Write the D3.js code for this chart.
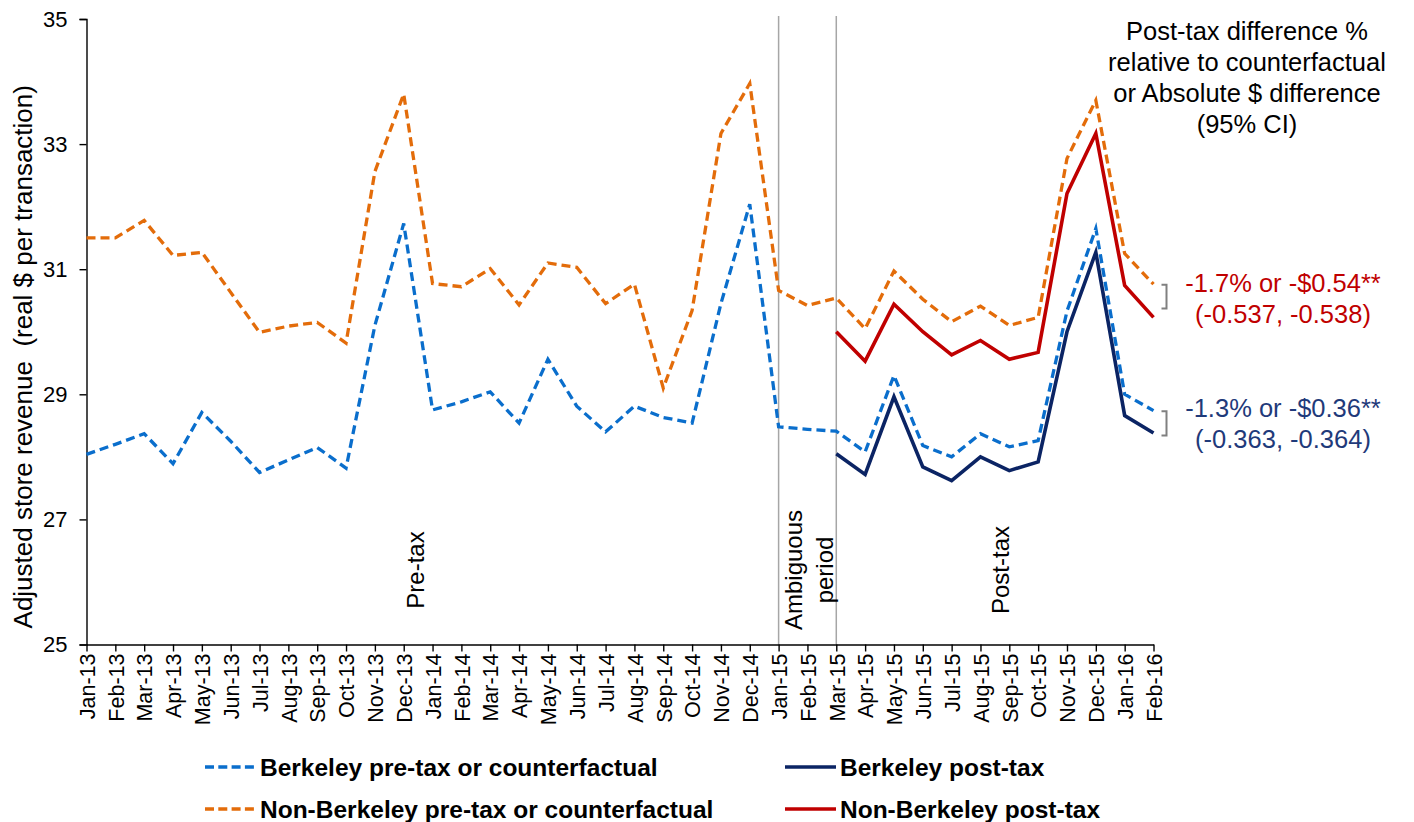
<!DOCTYPE html>
<html>
<head>
<meta charset="utf-8">
<script src="https://cdn.jsdelivr.net/npm/d3@7"></script>
<style>
  html, body { margin: 0; padding: 0; background: #fff; }
  svg { display: block; font-family: "Liberation Sans", Arial, sans-serif; }
</style>
</head>
<body>
<svg id="chart" width="1414" height="822"></svg>
<script>
// Monthly categories, Jan 2013 – Feb 2016
const months = [
  "Jan-13","Feb-13","Mar-13","Apr-13","May-13","Jun-13","Jul-13","Aug-13","Sep-13","Oct-13","Nov-13","Dec-13",
  "Jan-14","Feb-14","Mar-14","Apr-14","May-14","Jun-14","Jul-14","Aug-14","Sep-14","Oct-14","Nov-14","Dec-14",
  "Jan-15","Feb-15","Mar-15","Apr-15","May-15","Jun-15","Jul-15","Aug-15","Sep-15","Oct-15","Nov-15","Dec-15",
  "Jan-16","Feb-16"
];

// Berkeley pre-tax or counterfactual (real $ per transaction)
const berkeleyPre = [
  28.04, 28.20, 28.37, 27.89, 28.71, 28.25, 27.75, 27.95, 28.15, 27.82, 30.10, 31.73,
  28.75, 28.88, 29.04, 28.54, 29.56, 28.81, 28.40, 28.81, 28.63, 28.54, 30.45, 32.04,
  28.48, 28.44, 28.41, 28.08, 29.30, 28.18, 28.00, 28.37, 28.16, 28.26, 30.33, 31.65,
  29.00, 28.74
];

// Non-Berkeley pre-tax or counterfactual
const nonBerkeleyPre = [
  31.50, 31.50, 31.78, 31.22, 31.27, 30.63, 29.99, 30.09, 30.15, 29.82, 32.56, 33.80,
  30.77, 30.72, 31.01, 30.43, 31.10, 31.03, 30.45, 30.76, 29.10, 30.34, 33.17, 33.97,
  30.66, 30.42, 30.54, 30.05, 30.97, 30.52, 30.16, 30.41, 30.10, 30.23, 32.77, 33.70,
  31.25, 30.76
];

// Berkeley post-tax (from Mar-15)
const berkeleyPost = [
  null, null, null, null, null, null, null, null, null, null, null, null,
  null, null, null, null, null, null, null, null, null, null, null, null,
  null, null, 28.05, 27.72, 28.96, 27.84, 27.62, 28.00, 27.78, 27.92, 30.00, 31.27,
  28.66, 28.38
];

// Non-Berkeley post-tax (from Mar-15)
const nonBerkeleyPost = [
  null, null, null, null, null, null, null, null, null, null, null, null,
  null, null, null, null, null, null, null, null, null, null, null, null,
  null, null, 30.00, 29.53, 30.44, 30.00, 29.63, 29.86, 29.56, 29.67, 32.21, 33.17,
  30.74, 30.23
];

const yTicks = [25, 27, 29, 31, 33, 35];

const seriesNames = [
  "Berkeley pre-tax or counterfactual",
  "Non-Berkeley pre-tax or counterfactual",
  "Berkeley post-tax",
  "Non-Berkeley post-tax"
];

const periodBounds = ["Jan-15", "Mar-15"];

const headerLines = [
  "Post-tax difference %",
  "relative to counterfactual",
  "or Absolute $ difference",
  "(95% CI)"
];
const nonBerkeleyEffect = ["-1.7% or -$0.54**", "(-0.537, -0.538)"];
const berkeleyEffect = ["-1.3% or -$0.36**", "(-0.363, -0.364)"];
// bracket extents in $ units
const nonBerkeleyBracket = [30.75, 30.37];
const berkeleyBracket = [28.73, 28.34];

// ---- drawing ----
const svg = d3.select("#chart");

const x = d3.scalePoint().domain(months).range([86.5, 1153.5]);
const y = d3.scaleLinear().domain([25, 35]).range([644.5, 19]);

const colors = {
  berkPre: "#0A6ECC",
  nonBerkPre: "#E36C0A",
  berkPost: "#0B2464",
  nonBerkPost: "#C00000"
};

// period separators
svg.append("g").selectAll("line")
  .data(periodBounds)
  .join("line")
  .attr("x1", d => x(d)).attr("x2", d => x(d))
  .attr("y1", y(35) - 3).attr("y2", y(25))
  .attr("stroke", "#A6A6A6")
  .attr("stroke-width", 1.5);

// y axis
const yAxis = svg.append("g")
  .attr("transform", `translate(${x.range()[0]},0)`)
  .call(d3.axisLeft(y).tickValues(yTicks).tickSize(7).tickPadding(12).tickFormat(d3.format("d")));
yAxis.select(".domain").attr("stroke", "#000").attr("stroke-width", 1.4);
yAxis.selectAll(".tick line").attr("stroke", "#000").attr("stroke-width", 1.4);
yAxis.selectAll(".tick text")
  .attr("font-size", 22)
  .attr("fill", "#000")
  .attr("font-family", "'Liberation Sans', Arial, sans-serif");

// x axis
const xAxis = svg.append("g")
  .attr("transform", `translate(0,${y(25)})`)
  .call(d3.axisBottom(x).tickSize(7).tickSizeOuter(0));
xAxis.select(".domain").attr("stroke", "#000").attr("stroke-width", 1.4);
xAxis.selectAll(".tick line").attr("stroke", "#000").attr("stroke-width", 1.4);
xAxis.selectAll(".tick text")
  .attr("font-size", 21.5)
  .attr("fill", "#000")
  .attr("font-family", "'Liberation Sans', Arial, sans-serif")
  .attr("text-anchor", "end")
  .attr("transform", "rotate(-90)")
  .attr("x", -9)
  .attr("y", 0)
  .attr("dy", "0.36em");

// y axis title
svg.append("text")
  .attr("transform", `translate(32,${(y(25) + y(35)) / 2 + 25}) rotate(-90)`)
  .attr("text-anchor", "middle")
  .attr("font-size", 26)
  .attr("fill", "#000")
  .attr("xml:space", "preserve")
  .text("Adjusted store revenue  (real $ per transaction)");

// series lines
const line = d3.line()
  .defined(d => d.v != null)
  .x(d => x(d.m))
  .y(d => y(d.v));

const toPts = arr => months.map((m, i) => ({ m, v: arr[i] }));

const seriesDefs = [
  { data: nonBerkeleyPre, color: colors.nonBerkPre, dash: "9,5", width: 3.3 },
  { data: berkeleyPre, color: colors.berkPre, dash: "9,5", width: 3.3 },
  { data: nonBerkeleyPost, color: colors.nonBerkPost, dash: null, width: 3.6 },
  { data: berkeleyPost, color: colors.berkPost, dash: null, width: 3.6 }
];

svg.append("g").selectAll("path")
  .data(seriesDefs)
  .join("path")
  .attr("d", d => line(toPts(d.data)))
  .attr("fill", "none")
  .attr("stroke", d => d.color)
  .attr("stroke-width", d => d.width)
  .attr("stroke-dasharray", d => d.dash)
  .attr("stroke-linejoin", "miter");

// period labels
const periodText = svg.append("g")
  .attr("font-size", 24)
  .attr("fill", "#000")
  .attr("text-anchor", "middle");
const labelY = 570;
periodText.append("text")
  .attr("transform", `translate(${(x("Dec-13") + x("Jan-14")) / 2 + 6},${labelY}) rotate(-90)`)
  .text("Pre-tax");
periodText.append("text")
  .attr("transform", `translate(${x("Feb-15") - 5},${labelY}) rotate(-90)`)
  .text("Ambiguous");
periodText.append("text")
  .attr("transform", `translate(${x("Feb-15") + 26},${labelY}) rotate(-90)`)
  .text("period");
periodText.append("text")
  .attr("transform", `translate(${x("Sep-15")},${labelY}) rotate(-90)`)
  .text("Post-tax");

// header for effect estimates
svg.append("g")
  .attr("font-size", 25.5)
  .attr("fill", "#000")
  .attr("text-anchor", "middle")
  .selectAll("text")
  .data(headerLines)
  .join("text")
  .attr("x", 1247)
  .attr("y", (d, i) => 40 + i * 31)
  .text(d => d);

// brackets + effect labels
function effect(bracket, lines, color, baseY) {
  const xb = x(months[months.length - 1]) + 13;
  const y1 = y(bracket[0]), y2 = y(bracket[1]);
  svg.append("path")
    .attr("d", `M${xb - 5},${y1} H${xb} V${y2} H${xb - 5}`)
    .attr("fill", "none")
    .attr("stroke", "#808080")
    .attr("stroke-width", 2);
  svg.append("g")
    .attr("font-size", 25.5)
    .attr("fill", color)
    .attr("text-anchor", "middle")
    .selectAll("text")
    .data(lines)
    .join("text")
    .attr("x", 1283)
    .attr("y", (d, i) => baseY + i * 31)
    .text(d => d);
}
effect(nonBerkeleyBracket, nonBerkeleyEffect, "#C00000", 292);
effect(berkeleyBracket, berkeleyEffect, "#1F3A7A", 417);

// legend
const legendItems = [
  { name: seriesNames[0], color: colors.berkPre, dash: "9,4.3", lx: 205, ly: 767 },
  { name: seriesNames[1], color: colors.nonBerkPre, dash: "9,4.3", lx: 205, ly: 809 },
  { name: seriesNames[2], color: colors.berkPost, dash: null, lx: 785, ly: 767 },
  { name: seriesNames[3], color: colors.nonBerkPost, dash: null, lx: 785, ly: 809 }
];
const lg = svg.append("g").selectAll("g").data(legendItems).join("g");
lg.append("line")
  .attr("x1", d => d.lx).attr("x2", d => d.lx + 51)
  .attr("y1", d => d.ly).attr("y2", d => d.ly)
  .attr("stroke", d => d.color)
  .attr("stroke-width", 3.6)
  .attr("stroke-dasharray", d => d.dash);
lg.append("text")
  .attr("x", d => d.lx + 55)
  .attr("y", d => d.ly + 9)
  .attr("font-size", 24.5)
  .attr("font-weight", "bold")
  .attr("fill", "#000")
  .text(d => d.name);
</script>
</body>
</html>
